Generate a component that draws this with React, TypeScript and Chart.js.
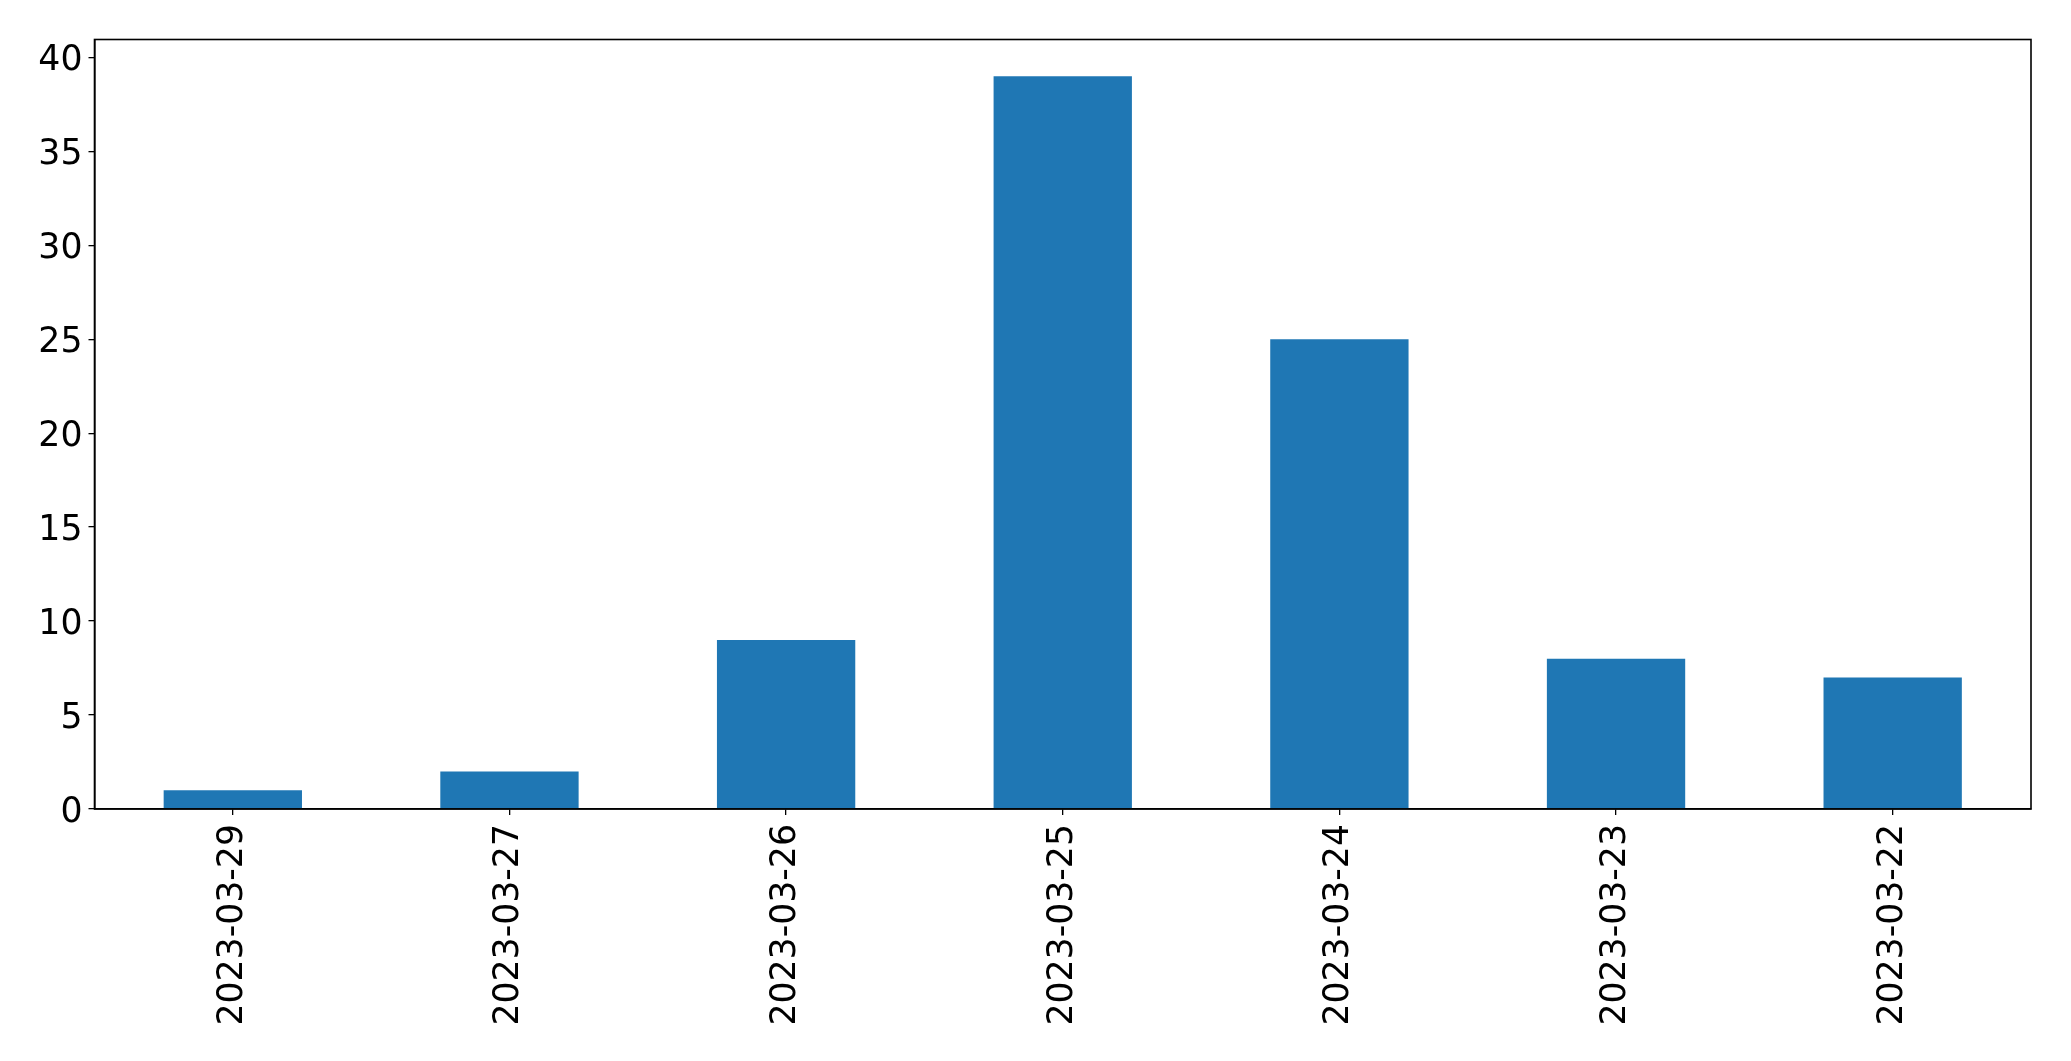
import React, { useEffect, useRef } from "react";
import { Chart, registerables } from "chart.js";

Chart.register(...registerables);

const categories: string[] = [
  "2023-03-29",
  "2023-03-27",
  "2023-03-26",
  "2023-03-25",
  "2023-03-24",
  "2023-03-23",
  "2023-03-22",
];
const counts: number[] = [1, 2, 9, 39, 25, 8, 7];
const yTicks: number[] = [0, 5, 10, 15, 20, 25, 30, 35, 40];

const W = 2071;
const H = 1061;
const AREA_LEFT = 94.5;
const AREA_TOP = 39.5;
const AREA_RIGHT = 2031;
const AREA_BOTTOM = 809;

const framePlugin = {
  id: "frame",
  afterDatasetsDraw(chart: any) {
    const { ctx, chartArea } = chart;
    ctx.save();
    ctx.strokeStyle = "#000";
    ctx.lineWidth = 1.6;
    ctx.strokeRect(
      chartArea.left,
      chartArea.top,
      chartArea.right - chartArea.left,
      chartArea.bottom - chartArea.top
    );
    ctx.restore();
  },
};

export default function App() {
  const ref = useRef<HTMLCanvasElement | null>(null);

  useEffect(() => {
    if (!ref.current) return;
    const font = { family: "'DejaVu Sans', sans-serif", size: 34.7 };
    const chart = new Chart(ref.current, {
      type: "bar",
      data: {
        labels: categories,
        datasets: [
          {
            data: counts,
            backgroundColor: "#1f77b4",
            borderWidth: 0,
            barPercentage: 0.5,
            categoryPercentage: 1,
          },
        ],
      },
      options: {
        animation: false,
        responsive: false,
        maintainAspectRatio: false,
        devicePixelRatio: 1,
        layout: {
          padding: {
            left: 0,
            top: AREA_TOP,
            right: W - AREA_RIGHT,
            bottom: 0,
          },
        },
        plugins: {
          legend: { display: false },
          tooltip: { enabled: false },
          title: { display: false },
        },
        scales: {
          x: {
            type: "category",
            offset: true,
            grid: {
              display: true,
              drawOnChartArea: false,
              drawTicks: true,
              tickLength: 6,
              color: "#000",
              lineWidth: 1.3,
              offset: false,
            },
            border: { display: true, color: "#000", width: 1.6 },
            ticks: {
              color: "#000",
              font,
              minRotation: 90,
              maxRotation: 90,
              padding: 9,
              autoSkip: false,
            },
            afterFit(scale: any) {
              scale.height = H - AREA_BOTTOM;
            },
          },
          y: {
            type: "linear",
            min: 0,
            max: 40.95,
            afterBuildTicks(scale: any) {
              scale.ticks = yTicks.map((v) => ({ value: v }));
            },
            grid: {
              display: true,
              drawOnChartArea: false,
              drawTicks: true,
              tickLength: 6,
              color: "#000",
              lineWidth: 1.3,
            },
            border: { display: true, color: "#000", width: 1.6 },
            ticks: {
              color: "#000",
              font,
              padding: 6,
              labelOffset: 4,
            },
            afterFit(scale: any) {
              scale.width = AREA_LEFT;
            },
          },
        },
      },
      plugins: [framePlugin],
    });
    return () => chart.destroy();
  }, []);

  return (
    <div
      style={{
        position: "absolute",
        left: 0,
        top: 0,
        width: W,
        height: H,
        background: "#fff",
      }}
    >
      <canvas ref={ref} width={W} height={H} style={{ display: "block", width: W, height: H }} />
    </div>
  );
}
